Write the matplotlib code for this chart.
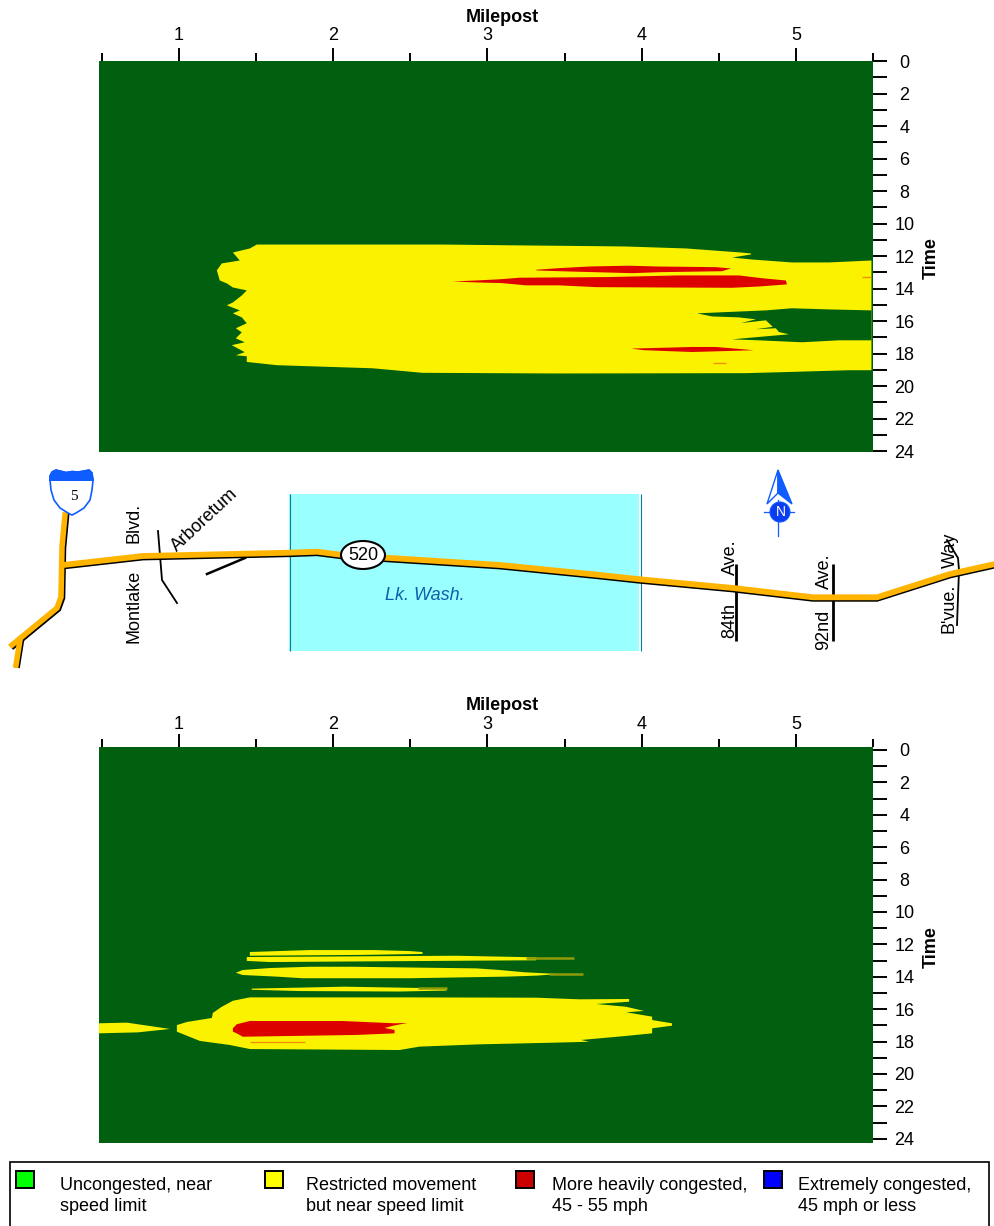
import matplotlib
matplotlib.use("Agg")
import matplotlib.pyplot as plt
from matplotlib.patches import Ellipse, Circle, Rectangle

plt.rcParams["font.family"] = ["Liberation Sans", "DejaVu Sans"]

W, H = 995, 1226
GREEN = "#00600f"
YELLOW = "#fbf200"
RED = "#dc0000"
OLIVE = "#8f9a08"
ORANGE = "#f08a00"
ROAD = "#ffb400"
BLUE = "#0f5cff"

hour_ticks = list(range(0, 25, 2))
hour_minor = list(range(1, 24, 2))
mile_ticks = [1, 2, 3, 4, 5]
mile_minor = [0.5, 1.5, 2.5, 3.5, 4.5, 5.5]

# Top panel, outlines as milepost / hour
top_yellow_mile = [1.505, 2.709, 3.291, 3.725, 3.90, 4.288, 4.644, 4.709, 4.709, 4.586, 4.715, 4.974, 5.214, 5.49,
                   5.49, 5.343, 4.909, 4.676, 3.466, 2.579, 2.256, 1.634, 1.46,
                   1.44, 1.44, 1.369, 1.427, 1.343, 1.427, 1.369, 1.408, 1.369, 1.44, 1.408, 1.35, 1.395, 1.311,
                   1.35, 1.408, 1.44, 1.35, 1.311, 1.265, 1.246, 1.278, 1.395, 1.35, 1.46]
top_yellow_hour = [11.29, 11.29, 11.35, 11.39, 11.41, 11.53, 11.78, 11.84, 11.90, 12.09, 12.21, 12.39, 12.39, 12.27,
                   19.02, 19.02, 19.14, 19.20, 19.22, 19.18, 18.90, 18.71, 18.53,
                   18.51, 18.16, 18.10, 17.91, 17.48, 17.30, 17.06, 16.69, 16.44, 16.13, 15.77, 15.52, 15.34, 15.03,
                   14.85, 14.42, 14.11, 13.93, 13.68, 13.50, 12.88, 12.45, 12.27, 11.78, 11.53]

top_hole_mile = [4.359, 4.806, 4.974, 5.214, 5.49, 5.49, 5.278, 5.039, 4.761, 4.586, 4.955, 4.89, 4.87, 4.741,
                 4.85, 4.806, 4.644, 4.741, 4.631, 4.456]
top_hole_hour = [15.52, 15.34, 15.21, 15.28, 15.34, 17.18, 17.18, 17.30, 17.18, 17.12, 16.81, 16.67, 16.44, 16.50,
                 16.35, 15.95, 16.12, 15.89, 15.77, 15.71]

top_red1_mile = [3.317, 3.466, 3.66, 3.919, 4.10, 4.482, 4.579, 4.521, 4.113, 3.939, 3.466, 3.317]
top_red1_hour = [12.84, 12.74, 12.64, 12.59, 12.64, 12.68, 12.76, 12.93, 12.99, 13.05, 12.93, 12.88]

top_red2_mile = [2.773, 2.929, 3.091, 3.207, 3.79, 4.223, 4.631, 4.78, 4.935, 4.942, 4.761, 4.586, 3.706, 3.466,
                 3.252, 3.091, 2.929]
top_red2_hour = [13.56, 13.50, 13.42, 13.33, 13.29, 13.19, 13.19, 13.36, 13.50, 13.74, 13.87, 13.95, 13.91, 13.80,
                 13.80, 13.66, 13.62]

top_red3_mile = [3.932, 4.327, 4.482, 4.728, 4.327, 4.016]
top_red3_hour = [17.69, 17.59, 17.59, 17.79, 17.90, 17.79]

# short streaks: start mile, end mile, hour
top_streak_hour = [18.6, 13.31]
top_streak_start = [4.46, 5.43]
top_streak_end = [4.55, 5.49]

# Bottom panel
low_a1_mile = [1.46, 1.848, 2.269, 2.495, 2.579, 2.579, 2.172, 1.46]
low_a1_hour = [12.47, 12.35, 12.35, 12.41, 12.47, 12.59, 12.65, 12.70]

low_a2_mile = [1.44, 2.799, 3.317, 3.317, 2.67, 1.589, 1.44]
low_a2_hour = [12.78, 12.70, 12.80, 12.98, 13.02, 13.09, 13.02]

low_b_mile = [1.369, 1.414, 1.589, 1.848, 2.126, 2.929, 3.078, 3.24, 3.466, 3.317, 3.123, 2.495, 1.803, 1.634, 1.414]
low_b_hour = [13.75, 13.58, 13.46, 13.38, 13.38, 13.48, 13.58, 13.72, 13.83, 13.93, 13.99, 14.09, 14.09, 13.99, 13.89]

low_c_mile = [1.472, 1.977, 2.074, 2.56, 2.735, 2.735, 2.43, 1.783, 1.472]
low_c_hour = [14.73, 14.63, 14.61, 14.69, 14.75, 14.85, 14.91, 14.88, 14.80]

low_main_mile = [1.35, 1.278, 1.22, 1.214, 1.052, 0.987, 0.987, 1.039, 1.136, 1.33, 1.46, 2.43, 2.56, 2.948, 3.421,
                 3.66, 3.608, 3.725, 3.90, 4.068, 4.068, 4.197, 4.197, 4.068, 4.068, 3.90, 4.016, 3.90, 3.706,
                 3.919, 3.919, 3.596, 3.317, 2.43, 1.46]
low_main_hour = [15.48, 15.85, 16.23, 16.54, 16.79, 16.98, 17.39, 17.59, 17.96, 18.21, 18.46, 18.52, 18.31, 18.17,
                 18.07, 18.01, 17.90, 17.80, 17.65, 17.49, 17.18, 17.02, 16.87, 16.67, 16.46, 16.19, 16.11, 15.85,
                 15.68, 15.54, 15.37, 15.39, 15.29, 15.27, 15.27]

low_stub_mile = [0.482, 0.663, 0.942, 0.735, 0.482]
low_stub_hour = [16.87, 16.83, 17.22, 17.43, 17.49]

low_red_mile = [1.35, 1.375, 1.46, 2.061, 2.398, 2.482, 2.398, 2.333, 2.398, 2.398, 2.152, 1.414, 1.375, 1.35]
low_red_hour = [17.18, 16.93, 16.73, 16.73, 16.87, 16.85, 17.0, 17.16, 17.28, 17.49, 17.59, 17.70, 17.49, 17.39]

low_tail_hour = [12.87, 13.8, 14.7]
low_tail_start = [3.25, 3.4, 2.55]
low_tail_end = [3.563, 3.62, 2.74]

# Map in picture coordinates
road520_x = [63, 143, 290, 317, 343, 500, 600, 640, 733, 813, 877, 950, 995]
road520_y = [565, 556, 552.7, 551.7, 555, 565, 575, 579.3, 588, 597.3, 597.3, 574, 564]
i5_x = [65, 62, 61, 57, 12]
i5_y = [515, 547, 597, 608, 645]
i5_stem_x = [20, 16]
i5_stem_y = [640, 665]
montlake_x = [158, 162, 177]
montlake_y = [531, 580, 603]
arboretum_x = [207, 245]
arboretum_y = [574, 558]
bvue_x = [947, 958, 959, 957]
bvue_y = [540, 558, 570, 625]
avenue_x = [736, 833]
shield_top_x = [50, 50, 52, 56, 60, 66, 72, 78, 84, 89, 92, 93]
shield_top_y = [480, 476, 472, 470, 471, 472.5, 471.5, 472, 471, 470, 473, 480]
shield_low_x = [50, 51, 54, 60, 68, 72, 76, 84, 90, 92, 93]
shield_low_y = [480, 490, 500, 508, 513, 515, 513, 508, 500, 490, 480]

map_labels = [("Blvd.", 134, 523, 90), ("Montlake", 134, 606, 90), ("Arboretum", 205, 520, 43),
              ("Ave.", 730, 557, 90), ("84th", 730, 620, 90), ("Ave.", 824, 571, 90), ("92nd", 824, 630, 90),
              ("B'vue.", 949, 608, 90), ("Way", 950, 550, 90)]

legend_x = [16, 265, 516, 764]
legend_text_x = [60, 306, 552, 798]
legend_colors = ["#00ff00", "#ffff00", "#cc0000", "#0000ff"]
legend_line1 = ["Uncongested, near", "Restricted movement", "More heavily congested,", "Extremely congested,"]
legend_line2 = ["speed limit", "but near speed limit", "45 - 55 mph", "45 mph or less"]

FS = 13


def make_panel(top_px, bottom_px, hour_top, hour_bottom, title_px, tick_pad):
    ax = fig.add_axes([99 / W, 1 - bottom_px / H, 774 / W, (bottom_px - top_px) / H])
    ax.set_xlim(0.482, 5.49)
    ax.set_ylim(hour_bottom, hour_top)
    ax.set_facecolor(GREEN)
    for s in ax.spines.values():
        s.set_visible(False)
    ax.xaxis.tick_top()
    ax.yaxis.tick_right()
    ax.set_xticks(mile_ticks)
    ax.set_xticks(mile_minor, minor=True)
    ax.set_yticks(hour_ticks)
    ax.set_yticks(hour_minor, minor=True)
    ax.tick_params(axis="x", which="major", length=9.5, width=1.4, pad=tick_pad, labelsize=FS)
    ax.tick_params(axis="x", which="minor", length=6, width=1.4)
    ax.tick_params(axis="y", which="both", length=10, width=1.4, pad=12.5, labelsize=FS)
    for label in ax.get_yticklabels():
        label.set_ha("center")
        label.set_va("center_baseline")
    ax.set_xlabel("Milepost", fontweight="bold", fontsize=FS)
    ax.xaxis.set_label_position("top")
    ax.xaxis.set_label_coords(0.521, 1 + (top_px - title_px) / (bottom_px - top_px), transform=ax.transAxes)
    ax.xaxis.label.set_va("center")
    ax.set_ylabel("Time", fontweight="bold", fontsize=FS)
    ax.yaxis.set_label_position("right")
    ax.yaxis.set_label_coords(1 + 58 / 774, 0.495, transform=ax.transAxes)
    ax.yaxis.label.set_va("center")
    return ax


fig = plt.figure(figsize=(W / 100, H / 100), dpi=100)

# Top panel
ax1 = make_panel(61, 452, 0.06, 24.05, 18, 2.5)
ax1.fill(top_yellow_mile, top_yellow_hour, color=YELLOW, lw=0)
ax1.fill(top_hole_mile, top_hole_hour, color=GREEN, lw=0)
ax1.fill(top_red1_mile, top_red1_hour, color=RED, lw=0)
ax1.fill(top_red2_mile, top_red2_hour, color=RED, lw=0)
ax1.fill(top_red3_mile, top_red3_hour, color=RED, lw=0)
ax1.hlines(top_streak_hour, top_streak_start, top_streak_end, color=ORANGE, lw=0.9)

# Bottom panel
ax2 = make_panel(747, 1143, -0.185, 24.26, 706, 0.5)
for xs, ys in [(low_a1_mile, low_a1_hour), (low_a2_mile, low_a2_hour), (low_b_mile, low_b_hour),
               (low_c_mile, low_c_hour), (low_main_mile, low_main_hour), (low_stub_mile, low_stub_hour)]:
    ax2.fill(xs, ys, color=YELLOW, lw=0)
ax2.fill(low_red_mile, low_red_hour, color=RED, lw=0)
ax2.hlines(low_tail_hour, low_tail_start, low_tail_end, color=OLIVE, lw=1.8)
ax2.hlines([18.0], [1.46], [1.816], color=ORANGE, lw=0.9)

# Map and legend share one overlay in picture coordinates
mp = fig.add_axes([0, 0, 1, 1], zorder=5)
mp.set_xlim(0, W)
mp.set_ylim(H, 0)
mp.axis("off")
mp.patch.set_alpha(0)

mp.add_patch(Rectangle((289, 494), 350, 157, facecolor="#99ffff", edgecolor="none", zorder=1))
mp.vlines([289.5, 640.5], 494, 651, color="#00809f", lw=0.8, zorder=1.5)
mp.text(425, 595, "Lk. Wash.", style="italic", color="#0f5fa8", fontsize=FS, ha="center", va="center")

mp.plot(montlake_x, montlake_y, color="black", lw=1.3, zorder=2)
mp.plot(arboretum_x, arboretum_y, color="black", lw=1.8, zorder=2)
mp.plot(bvue_x, bvue_y, color="black", lw=1.3, zorder=2)
mp.vlines(avenue_x, 564, 641, color="black", lw=2, zorder=2)

mp.plot([x + 1.5 for x in i5_x], [y + 1 for y in i5_y], color="black", lw=4, zorder=3, solid_joinstyle="miter")
mp.plot([x + 1.5 for x in i5_stem_x], i5_stem_y, color="black", lw=4, zorder=3)
mp.plot(road520_x, [y + 1.5 for y in road520_y], color="black", lw=4.2, zorder=3, solid_joinstyle="miter")
mp.plot(i5_x, i5_y, color=ROAD, lw=4, zorder=4, solid_joinstyle="miter")
mp.plot(i5_stem_x, i5_stem_y, color=ROAD, lw=4, zorder=4)
mp.plot(road520_x, road520_y, color=ROAD, lw=4.2, zorder=4, solid_joinstyle="miter")

for text, x, y, angle in map_labels:
    mp.text(x, y, text, rotation=angle, fontsize=FS, ha="center", va="center", rotation_mode="anchor", zorder=6)

mp.add_patch(Ellipse((363, 555), 44, 28, facecolor="white", edgecolor="black", lw=1.5, zorder=5))
mp.text(363, 555.5, "520", fontsize=FS, ha="center", va="center", zorder=6)

# I-5 shield
mp.fill(shield_top_x + shield_low_x, shield_top_y + shield_low_y, facecolor="white", edgecolor=BLUE, lw=1.2, zorder=5)
mp.fill(shield_top_x, shield_top_y, facecolor=BLUE, edgecolor=BLUE, lw=1, zorder=5.5)
mp.text(73.5, 496, "5", family="Liberation Serif", fontsize=11, ha="center", va="center", zorder=6)

# North arrow
mp.fill([778, 767, 778], [470, 504, 493], facecolor="white", edgecolor=BLUE, lw=1, zorder=5)
mp.fill([778, 792, 778], [470, 504, 493], facecolor=BLUE, edgecolor=BLUE, lw=1, zorder=5)
mp.plot([764, 794], [512, 512], color=BLUE, lw=0.9, zorder=5)
mp.plot([778, 778], [500, 536], color=BLUE, lw=0.9, zorder=5)
mp.add_patch(Circle((780, 512), 10, facecolor="#0a3cf0", edgecolor=BLUE, lw=0.8, zorder=5.5))
mp.text(780.5, 512.5, "N", color="white", fontsize=10, ha="center", va="center", zorder=6)

# Legend
mp.add_patch(Rectangle((10, 1161.5), 978.5, 80, facecolor="white", edgecolor="black", lw=1.2, zorder=2))
for x, tx, color, line1, line2 in zip(legend_x, legend_text_x, legend_colors, legend_line1, legend_line2):
    mp.add_patch(Rectangle((x, 1170.5), 17.5, 17, facecolor=color, edgecolor="black", lw=1.4, zorder=3))
    mp.text(tx, 1185.5, line1, fontsize=FS, ha="left", va="center", zorder=4)
    mp.text(tx, 1206.5, line2, fontsize=FS, ha="left", va="center", zorder=4)

fig.savefig("out.png", dpi=100)
